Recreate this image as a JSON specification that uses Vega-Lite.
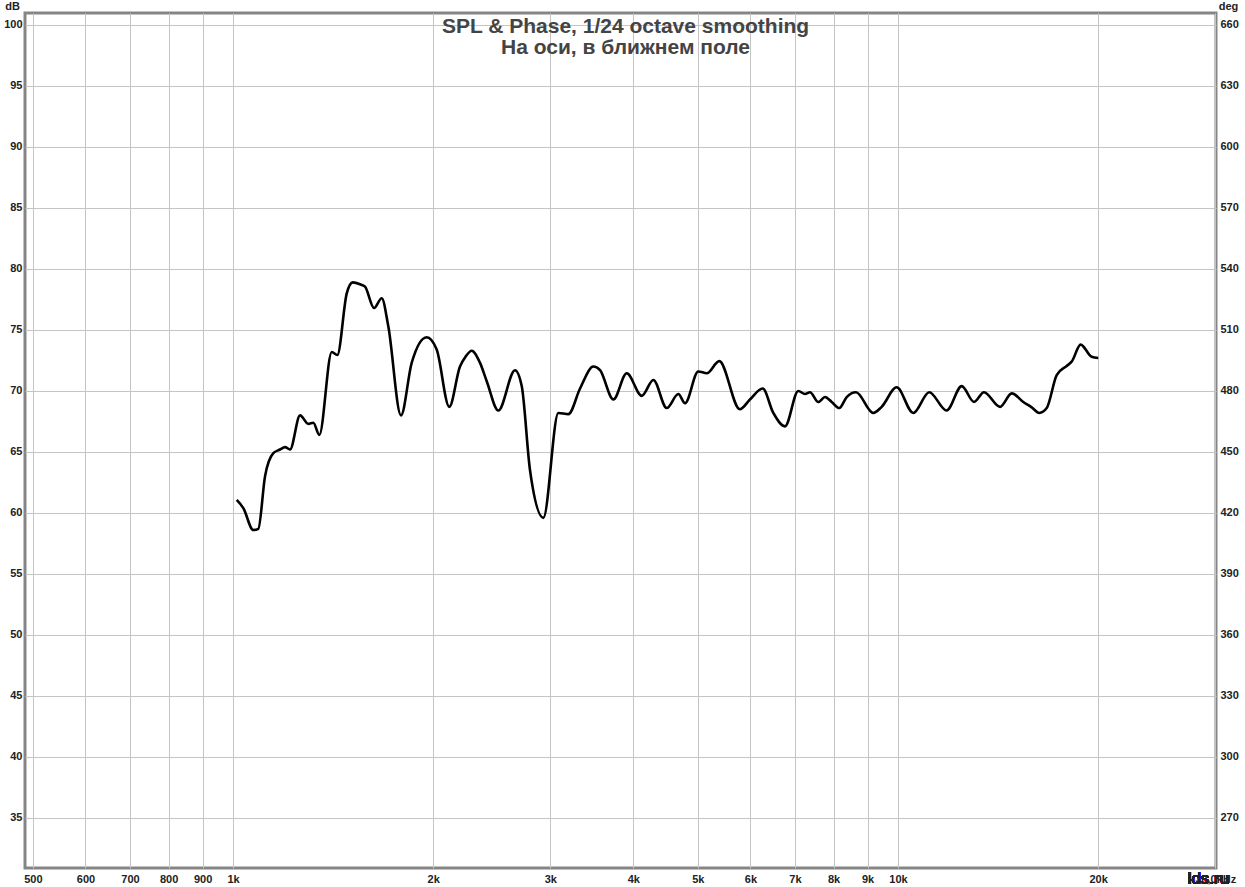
{
  "$schema": "https://vega.github.io/schema/vega-lite/v6.json",
  "width": 1191,
  "height": 855,
  "autosize": "none",
  "padding": {"left": 25, "top": 13, "right": 29, "bottom": 19},
  "background": "white",
  "config": {
    "font": "Liberation Sans",
    "view": {"stroke": "#858585", "strokeWidth": 3},
    "axis": {"labelFont": "Liberation Sans", "labelFontSize": 11, "labelColor": "#222", "labelFontWeight": "bold", "gridColor": "#c4c4c4", "gridWidth": 1, "gridOpacity": 1, "domain": false, "ticks": false, "titleFont": "Liberation Sans", "titleFontSize": 11, "titleFontWeight": "bold", "titleColor": "#222"}
  },
  "title": {
    "text": "SPL & Phase, 1/24 octave smoothing",
    "subtitle": "На оси, в ближнем поле",
    "anchor": "middle",
    "dx": 5,
    "offset": -58,
    "font": "Liberation Sans",
    "fontSize": 21,
    "fontWeight": "bold",
    "color": "#444",
    "subtitleFont": "Liberation Sans",
    "subtitleFontSize": 21,
    "subtitleFontWeight": "bold",
    "subtitleColor": "#444",
    "subtitlePadding": 0
  },
  "data": {"values": [
    {"f": 1012.9, "dB": 61.07},
    {"f": 1036.3, "dB": 60.4},
    {"f": 1072.8, "dB": 58.6},
    {"f": 1091.5, "dB": 58.7},
    {"f": 1117.2, "dB": 63.0},
    {"f": 1149.8, "dB": 64.9},
    {"f": 1176.8, "dB": 65.2},
    {"f": 1197.4, "dB": 65.4},
    {"f": 1218.2, "dB": 65.2},
    {"f": 1261.3, "dB": 68.0},
    {"f": 1298.0, "dB": 67.3},
    {"f": 1320.7, "dB": 67.4},
    {"f": 1348.4, "dB": 66.4},
    {"f": 1407.6, "dB": 73.2},
    {"f": 1435.1, "dB": 72.95},
    {"f": 1482.6, "dB": 78.0},
    {"f": 1513.6, "dB": 78.9},
    {"f": 1552.4, "dB": 78.75},
    {"f": 1579.5, "dB": 78.55},
    {"f": 1629.5, "dB": 76.8},
    {"f": 1673.5, "dB": 77.6},
    {"f": 1712.1, "dB": 75.3},
    {"f": 1788.9, "dB": 68.0},
    {"f": 1856.5, "dB": 72.3},
    {"f": 1955.5, "dB": 74.4},
    {"f": 2024.4, "dB": 73.4},
    {"f": 2114.6, "dB": 68.7},
    {"f": 2194.4, "dB": 72.0},
    {"f": 2237, "dB": 72.8},
    {"f": 2285, "dB": 73.3},
    {"f": 2352.2, "dB": 72.3},
    {"f": 2407.4, "dB": 70.8},
    {"f": 2506.1, "dB": 68.4},
    {"f": 2655.3, "dB": 71.7},
    {"f": 2717.6, "dB": 70.4},
    {"f": 2796.8, "dB": 63.5},
    {"f": 2929, "dB": 59.6},
    {"f": 3085, "dB": 68.2},
    {"f": 3193.8, "dB": 68.1},
    {"f": 3325.8, "dB": 70.2},
    {"f": 3482.5, "dB": 72.0},
    {"f": 3564.3, "dB": 71.7},
    {"f": 3732.3, "dB": 69.3},
    {"f": 3909.5, "dB": 71.45},
    {"f": 4118, "dB": 69.6},
    {"f": 4286.7, "dB": 70.9},
    {"f": 4490, "dB": 68.6},
    {"f": 4674, "dB": 69.75},
    {"f": 4783.8, "dB": 69.0},
    {"f": 5008, "dB": 71.6},
    {"f": 5157.6, "dB": 71.45},
    {"f": 5386, "dB": 72.45},
    {"f": 5785, "dB": 68.5},
    {"f": 5989, "dB": 69.3},
    {"f": 6260, "dB": 70.2},
    {"f": 6494, "dB": 68.2},
    {"f": 6762, "dB": 67.1},
    {"f": 7081, "dB": 70.0},
    {"f": 7248, "dB": 69.75},
    {"f": 7374, "dB": 69.9},
    {"f": 7589, "dB": 69.1},
    {"f": 7767, "dB": 69.5},
    {"f": 7950, "dB": 69.1},
    {"f": 8162, "dB": 68.6},
    {"f": 8373, "dB": 69.5},
    {"f": 8647, "dB": 69.9},
    {"f": 9181, "dB": 68.2},
    {"f": 9451, "dB": 68.7},
    {"f": 9955, "dB": 70.3},
    {"f": 10544, "dB": 68.2},
    {"f": 11144, "dB": 69.9},
    {"f": 11836, "dB": 68.4},
    {"f": 12470, "dB": 70.4},
    {"f": 13013, "dB": 69.1},
    {"f": 13471, "dB": 69.9},
    {"f": 14240, "dB": 68.7},
    {"f": 14829, "dB": 69.8},
    {"f": 15436, "dB": 69.1},
    {"f": 15891, "dB": 68.65},
    {"f": 16314, "dB": 68.2},
    {"f": 16737, "dB": 68.6},
    {"f": 17326, "dB": 71.3},
    {"f": 17936, "dB": 72.05},
    {"f": 18249, "dB": 72.4},
    {"f": 18826, "dB": 73.8},
    {"f": 19556, "dB": 72.8},
    {"f": 20008, "dB": 72.7}
  ]},
  "layer": [
    {
      "mark": {"type": "line", "color": "#000", "strokeWidth": 2.6, "interpolate": "monotone", "clip": true},
      "encoding": {
        "x": {"field": "f", "type": "quantitative",
          "scale": {"type": "log", "domain": [486.6, 30080], "nice": false, "zero": false},
          "axis": {"title": null, "values": [500, 600, 700, 800, 900, 1000, 2000, 3000, 4000, 5000, 6000, 7000, 8000, 9000, 10000, 20000, 30000],
            "labelExpr": "datum.value == 30000 ? '30,0kHz' : (datum.value >= 1000 ? (datum.value / 1000) + 'k' : datum.value)",
            "labelPadding": 5, "labelFlush": false, "labelOverlap": false}},
        "y": {"field": "dB", "type": "quantitative",
          "scale": {"domain": [30.9, 100.98], "nice": false, "zero": false},
          "axis": {"title": "dB", "titleAngle": 0, "titleX": -13, "titleY": -7, "titleAlign": "center", "titleBaseline": "middle",
            "values": [35, 40, 45, 50, 55, 60, 65, 70, 75, 80, 85, 90, 95, 100], "labelPadding": 3}}
      }
    },
    {
      "mark": {"type": "point", "opacity": 0},
      "encoding": {
        "y": {"datum": 450, "type": "quantitative",
          "scale": {"domain": [245.4, 665.9], "nice": false, "zero": false},
          "axis": {"orient": "right", "title": "deg", "titleAngle": 0, "titleX": 12, "titleY": -7, "titleAlign": "center", "titleBaseline": "middle",
            "values": [270, 300, 330, 360, 390, 420, 450, 480, 510, 540, 570, 600, 630, 660], "grid": false, "labelPadding": 4}}
      }
    },
    {
      "mark": {"type": "text", "text": "lds.ru", "font": "Liberation Sans", "fontSize": 17, "fontWeight": "normal", "color": "#222", "clip": false, "baseline": "middle"},
      "encoding": {
        "x": {"datum": 29300, "type": "quantitative"},
        "y": {"datum": 30.0, "type": "quantitative", "scale": {"domain": [30.9, 100.98], "nice": false, "zero": false}, "axis": null}
      }
    }
  ],
  "resolve": {"scale": {"y": "independent"}}
}
